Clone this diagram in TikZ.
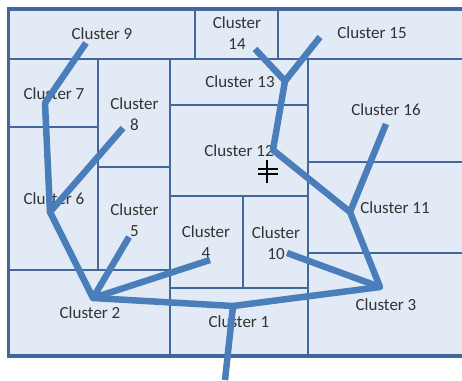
\documentclass[tikz,border=0pt]{standalone}
\usepackage{fontspec}
\setmainfont{Carlito}
\usepackage{tikz}
\usetikzlibrary{positioning}
\definecolor{cellfill}{HTML}{E2EAF5}
\definecolor{gridline}{HTML}{41679B}
\definecolor{treeline}{HTML}{4A7EBB}

\begin{document}
\begin{tikzpicture}[x=1pt, y=-1pt]
\tikzstyle{lbl}=[inner sep = 0 pt, align = center, text = black!80, font = \fontsize{17}{21}\selectfont]
\tikzstyle{grd}=[draw = gridline, line width = 1.8 pt]
\tikzstyle{brd}=[draw = gridline, line width = 3.6 pt]
\tikzstyle{edge}=[draw = treeline, line width = 6.5 pt, line join = round]

\useasboundingbox (0,0) rectangle (462,380);
\fill[cellfill] (8.5,9) rectangle (462,356);

% cells
\draw[grd] (8.5,59) -- (462,59);
\draw[grd] (195,9) -- (195,59);
\draw[grd] (278,9) -- (278,59);
\draw[grd] (98,59) -- (98,270);
\draw[grd] (8.5,127) -- (98,127);
\draw[grd] (8.5,270) -- (170,270);
\draw[grd] (98,167) -- (170,167);
\draw[grd] (170,59) -- (170,356);
\draw[grd] (170,105) -- (308,105);
\draw[grd] (170,196) -- (308,196);
\draw[grd] (243,196) -- (243,288);
\draw[grd] (170,288) -- (308,288);
\draw[grd] (308,59) -- (308,356);
\draw[grd] (308,162) -- (462,162);
\draw[grd] (308,253) -- (462,253);
\draw[brd] (462,9) -- (8.5,9) -- (8.5,356) -- (462,356);

% labels
\node[lbl] (L9) at (102,34) {Cluster 9};
\node[lbl] (L14) at (237,33.5) {Cluster\\14};
\node[lbl] (L15) at (372,33) {Cluster 15};
\node[lbl] (L7) at (54,94) {Cluster 7};
\node[lbl] (L8) at (134.5,114.5) {Cluster\\8};
\node[lbl] (L13) at (240,82) {Cluster 13};
\node[lbl] (L12) at (239,151) {Cluster 12};
\node[lbl] (L16) at (386,110) {Cluster 16};
\node[lbl] (L6) at (54,199) {Cluster 6};
\node[lbl] (L5) at (134.5,220) {Cluster\\5};
\node[lbl] (L11) at (395,208) {Cluster 11};
\node[lbl] (L4) at (206,242.5) {Cluster\\4};
\node[lbl] (L10) at (276,243) {Cluster\\10};
\node[lbl] (L2) at (90,313) {Cluster 2};
\node[lbl] (L1) at (239,322) {Cluster 1};
\node[lbl] (L3) at (386,305) {Cluster 3};

% tree
\coordinate (t9) at (86,43);
\coordinate (t7) at (45,103);
\coordinate (t6) at (50,212);
\coordinate (t8) at (123,128);
\coordinate (t2) at (93,298);
\coordinate (t5) at (129,237);
\coordinate (t4) at (210,260);
\coordinate (t1) at (233,306);
\coordinate (tb) at (225,380);
\coordinate (t3) at (380,287);
\coordinate (t10) at (287,253);
\coordinate (t11) at (350,212);
\coordinate (t16) at (386,124);
\coordinate (t12) at (273,150);
\coordinate (t13) at (285,81);
\coordinate (t14) at (255,49);
\coordinate (t15) at (320,37);

\draw[edge] (t9) -- (t7) -- (t6) -- (t2) -- (t1) -- (t3) -- (t11) -- (t12) -- (t13) -- (t15);
\draw[edge] (t8) -- (t6);
\draw[edge] (t5) -- (t2) -- (t4);
\draw[edge] (t1) -- (tb);
\draw[edge] (t10) -- (t3);
\draw[edge] (t16) -- (t11);
\draw[edge] (t14) -- (t13);

% cursor
\draw[line width = 1.2 pt] (267,160) -- (267,183);
\draw[line width = 1.2 pt] (258,169) -- (278,169) (258,174) -- (278,174);
\end{tikzpicture}
\end{document}
